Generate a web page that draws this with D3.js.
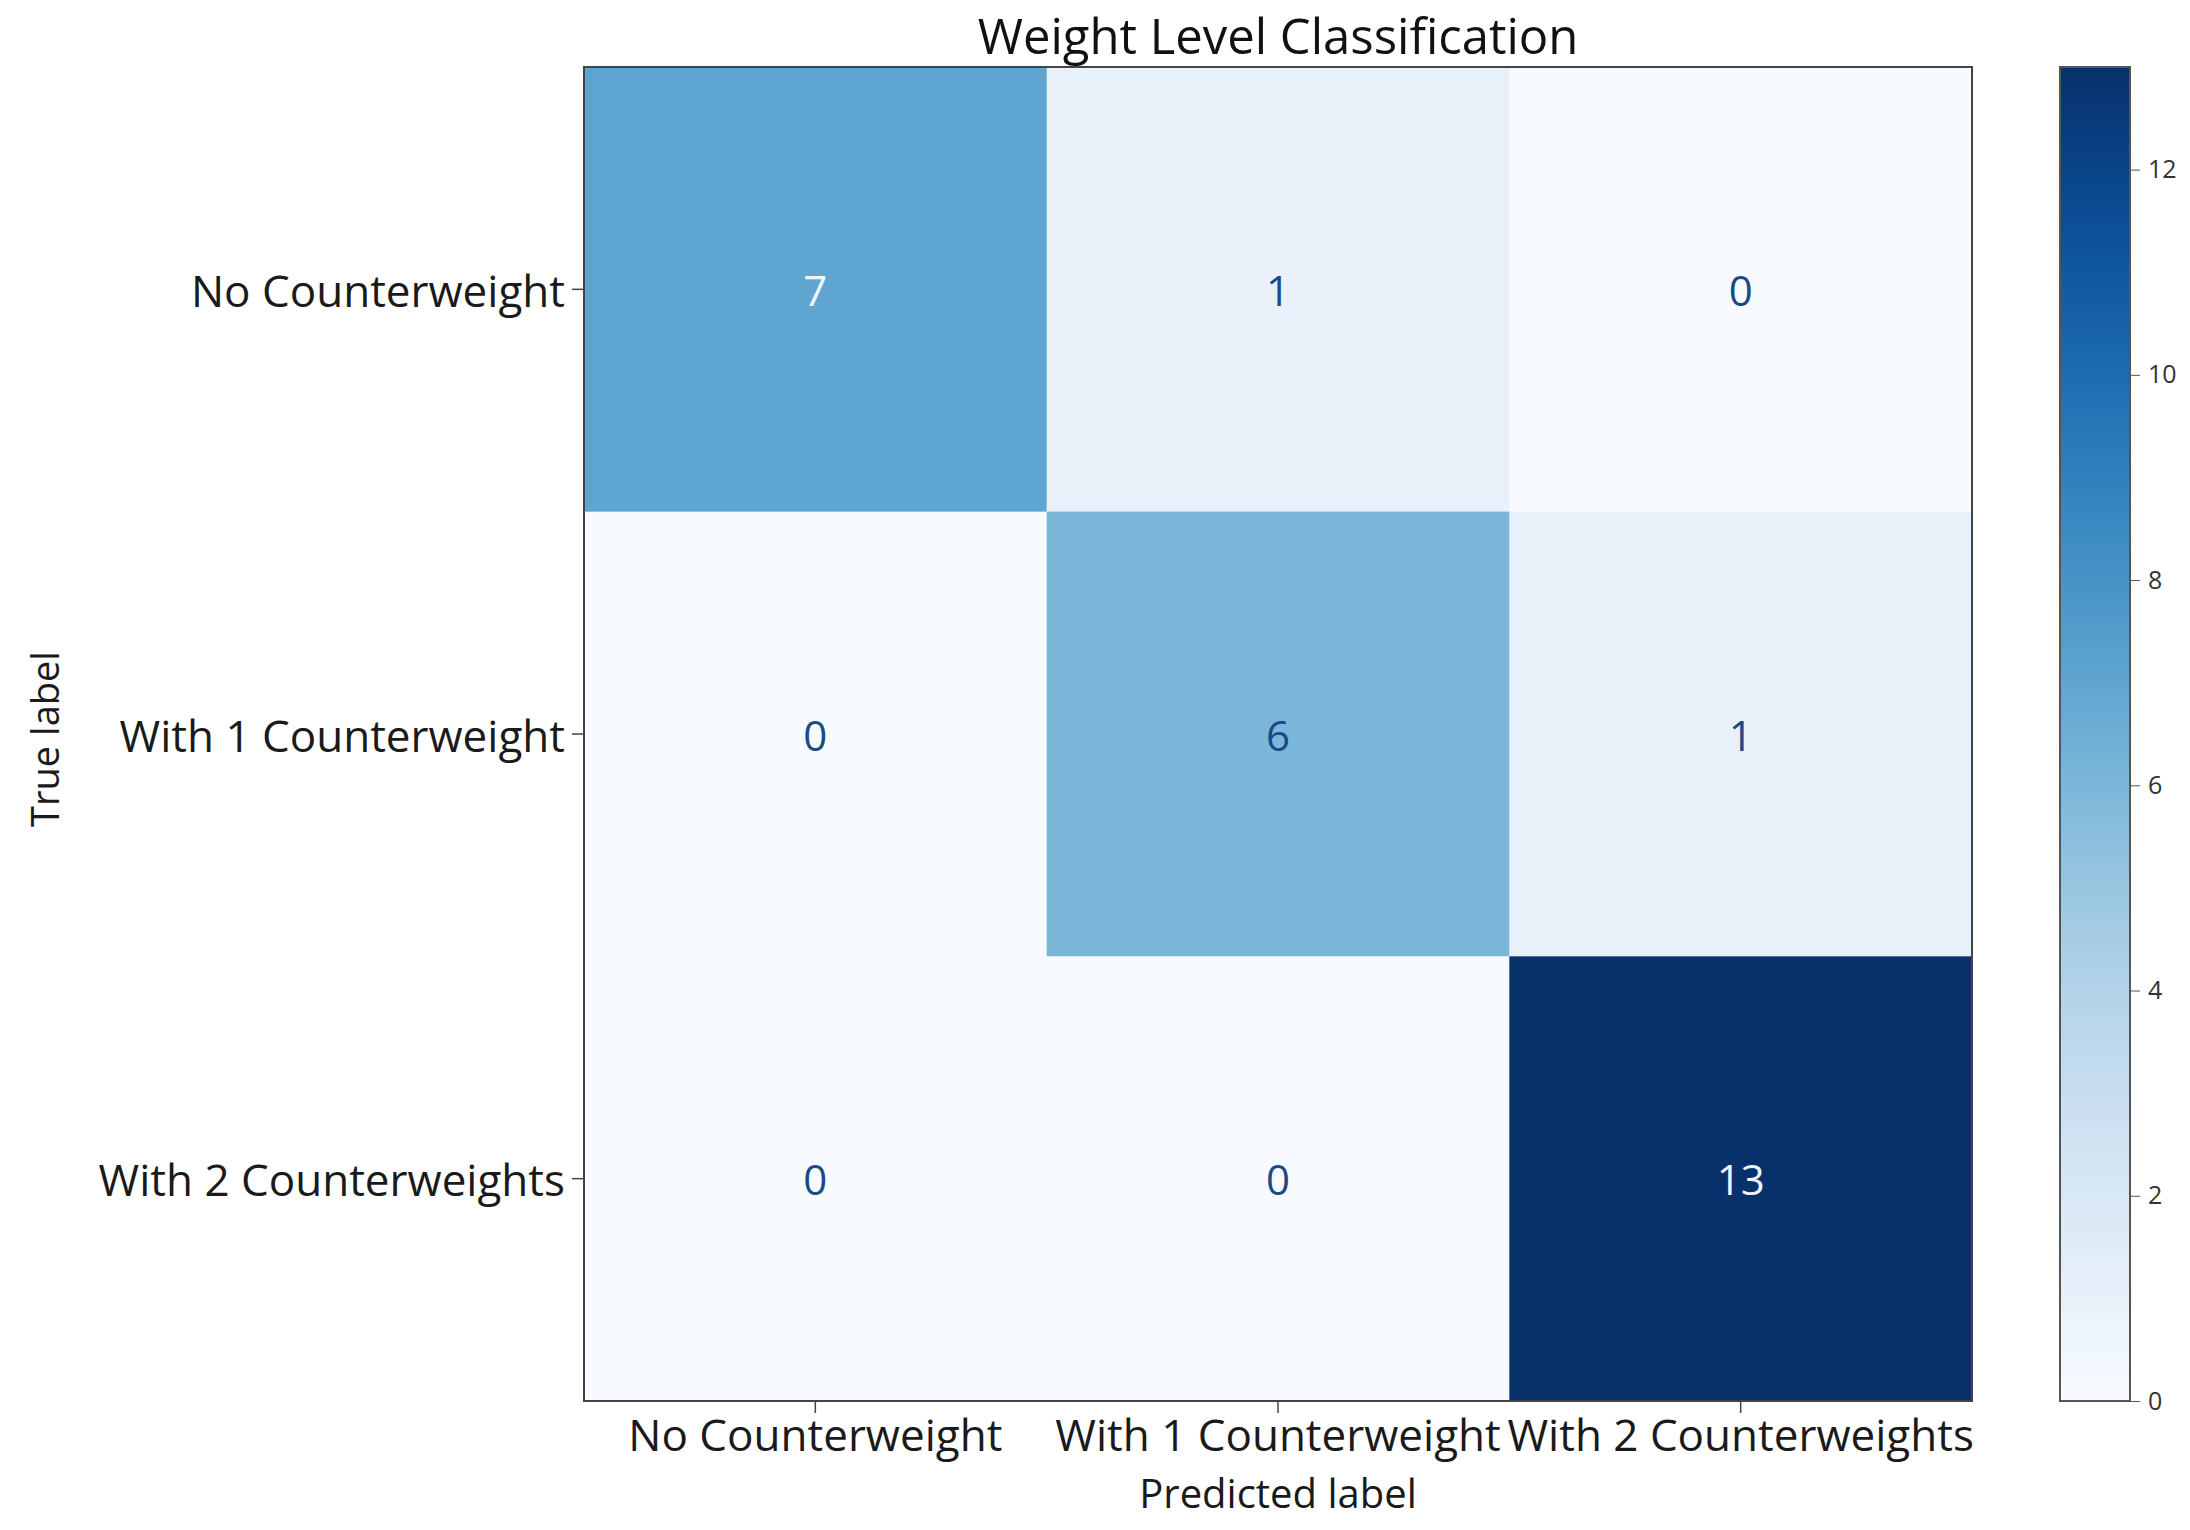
<!DOCTYPE html>
<html>
<head>
<meta charset="utf-8">
<script src="https://cdn.jsdelivr.net/npm/d3@7.9.0/dist/d3.min.js"></script>
<style>
  html, body { margin: 0; padding: 0; background: #fff; }
  svg text { font-family: "Open Sans", "Noto Sans", sans-serif; }
</style>
</head>
<body>
<svg id="chart" width="2190" height="1530"></svg>
<script>
// data
const trueLabels = ['No Counterweight', 'With 1 Counterweight', 'With 2 Counterweights'];
const predLabels = ['No Counterweight', 'With 1 Counterweight', 'With 2 Counterweights'];
const counts = [
    [7, 1, 0],
    [0, 6, 1],
    [0, 0, 13]
];
const cbarTicks = [0, 2, 4, 6, 8, 10, 12];

const svg = d3.select('#chart');
const plot = { left: 584, right: 1972, top: 67, bottom: 1401 };
const cbar = { left: 2060, right: 2130 };

const vmax = d3.max(counts.flat());
const color = d3.scaleSequential(d3.interpolateBlues).domain([0, vmax]);

const x = d3.scaleBand().domain(predLabels).range([plot.left, plot.right]);
const y = d3.scaleBand().domain(trueLabels).range([plot.top, plot.bottom]);

// flatten matrix into cells
const cells = [];
counts.forEach((row, i) => row.forEach((v, j) => cells.push({ t: trueLabels[i], p: predLabels[j], v })));

svg.append('g').selectAll('rect')
    .data(cells)
    .join('rect')
    .attr('x', d => x(d.p))
    .attr('y', d => y(d.t))
    .attr('width', x.bandwidth() + 0.5)
    .attr('height', y.bandwidth() + 0.5)
    .attr('fill', d => color(d.v));

// numbers, light text on dark cells like sklearn does
const thresh = vmax / 2;
svg.append('g').selectAll('text')
    .data(cells)
    .join('text')
    .attr('x', d => x(d.p) + x.bandwidth() / 2)
    .attr('y', d => y(d.t) + y.bandwidth() / 2)
    .attr('text-anchor', 'middle')
    .attr('dominant-baseline', 'central')
    .attr('font-size', 42)
    .attr('fill', d => d.v > thresh ? '#eef5fc' : '#1c4a85')
    .text(d => d.v);

// axes
const xAxis = svg.append('g')
    .attr('transform', `translate(0,${plot.bottom})`)
    .call(d3.axisBottom(x).tickSize(12));
const yAxis = svg.append('g')
    .attr('transform', `translate(${plot.left},0)`)
    .call(d3.axisLeft(y).tickSize(12).tickPadding(7));

[xAxis, yAxis].forEach(g => {
    g.select('.domain').remove();
    g.selectAll('.tick line').attr('stroke', '#444').attr('stroke-width', 1.5);
    g.selectAll('.tick text').attr('font-size', 44).attr('fill', '#1a1a1a')
        .attr('font-family', '"Open Sans", "Noto Sans", sans-serif');
});
xAxis.selectAll('.tick text').attr('y', 50).attr('dy', 0);
yAxis.selectAll('.tick text').attr('dy', '0.4em');

// plot frame
svg.append('rect')
    .attr('x', plot.left).attr('y', plot.top)
    .attr('width', plot.right - plot.left).attr('height', plot.bottom - plot.top)
    .attr('fill', 'none').attr('stroke', '#444').attr('stroke-width', 2);

// labels
svg.append('text')
    .attr('x', (plot.left + plot.right) / 2).attr('y', 54)
    .attr('text-anchor', 'middle').attr('font-size', 49).attr('fill', '#111')
    .text('Weight Level Classification');

svg.append('text')
    .attr('x', (plot.left + plot.right) / 2).attr('y', 1508)
    .attr('text-anchor', 'middle').attr('font-size', 40).attr('fill', '#1a1a1a')
    .text('Predicted label');

svg.append('text')
    .attr('transform', `translate(59,${(plot.top + plot.bottom) / 2 + 5}) rotate(-90)`)
    .attr('text-anchor', 'middle').attr('font-size', 38).attr('fill', '#1a1a1a')
    .text('True label');

// colorbar
const cy = d3.scaleLinear().domain([0, vmax]).range([plot.bottom, plot.top]);
const grad = svg.append('defs').append('linearGradient')
    .attr('id', 'cbar-grad')
    .attr('x1', 0).attr('y1', 1).attr('x2', 0).attr('y2', 0);
grad.selectAll('stop')
    .data(d3.range(0, 1.0001, 0.05))
    .join('stop')
    .attr('offset', d => d)
    .attr('stop-color', d => color(d * vmax));

svg.append('rect')
    .attr('x', cbar.left).attr('y', plot.top)
    .attr('width', cbar.right - cbar.left).attr('height', plot.bottom - plot.top)
    .attr('fill', 'url(#cbar-grad)')
    .attr('stroke', '#555').attr('stroke-width', 2);

const cAxis = svg.append('g')
    .attr('transform', `translate(${cbar.right},0)`)
    .call(d3.axisRight(cy).tickValues(cbarTicks).tickSize(10).tickPadding(8));
cAxis.select('.domain').remove();
cAxis.selectAll('.tick line').attr('stroke', '#555');
cAxis.selectAll('.tick text').attr('font-size', 25).attr('fill', '#333')
    .attr('font-family', '"Open Sans", "Noto Sans", sans-serif');
</script>
</body>
</html>
